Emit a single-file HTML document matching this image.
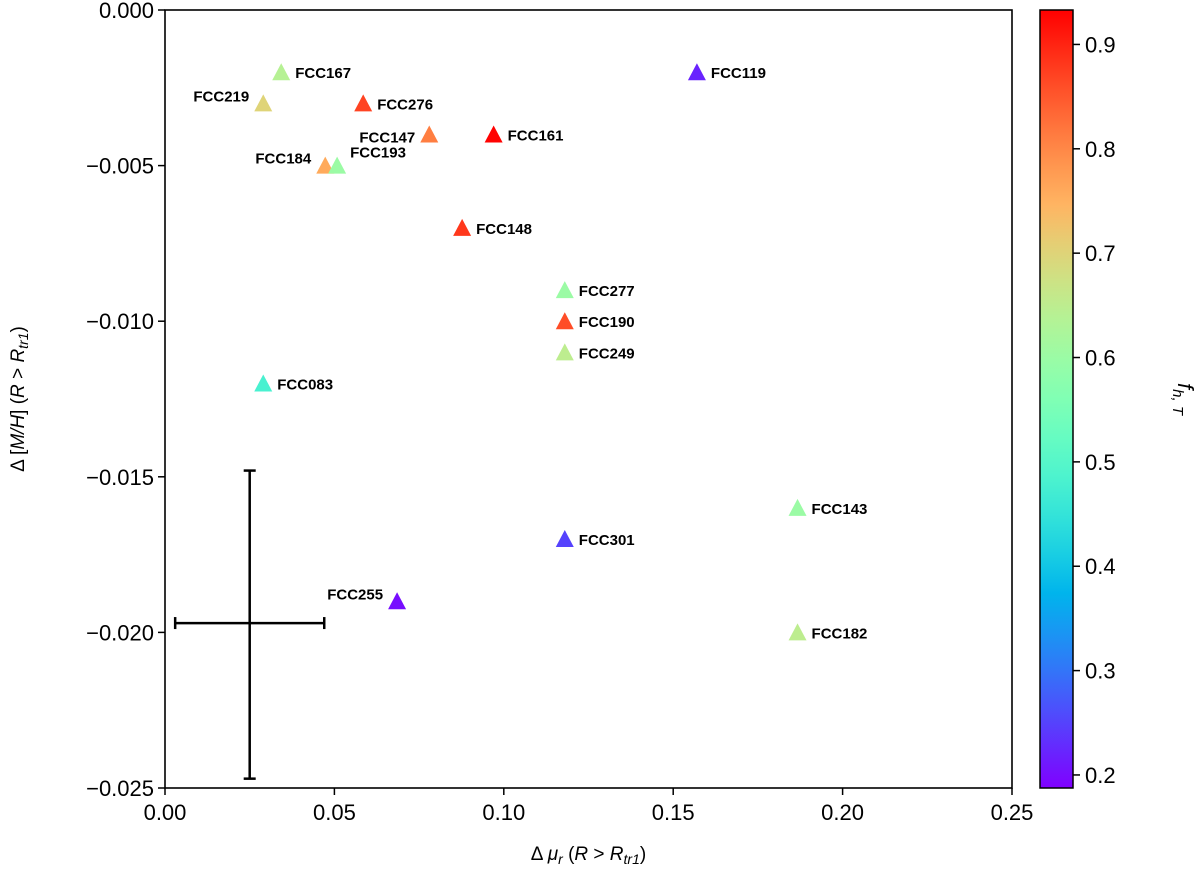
<!DOCTYPE html>
<html><head><meta charset="utf-8"><style>
body{margin:0;background:#fff;}
svg text{font-family:"Liberation Sans","DejaVu Sans",sans-serif;}
</style></head><body>
<svg id="chart" width="1200" height="872">
<defs><linearGradient id="cbg" x1="0" y1="1" x2="0" y2="0"></linearGradient></defs>
<g id="plot"></g>
</svg>
<script>
const names=["FCC167","FCC219","FCC276","FCC147","FCC161","FCC184","FCC193","FCC148","FCC119","FCC277","FCC190","FCC249","FCC083","FCC143","FCC301","FCC255","FCC182"];
const dmu=[0.0343,0.029,0.0585,0.078,0.097,0.0473,0.0508,0.0877,0.157,0.118,0.118,0.118,0.029,0.1867,0.118,0.0685,0.1867];
const dmh=[-0.002,-0.003,-0.003,-0.004,-0.004,-0.005,-0.005,-0.007,-0.002,-0.009,-0.010,-0.011,-0.012,-0.016,-0.017,-0.019,-0.020];
const fh=[0.64,0.70,0.87,0.81,0.93,0.76,0.60,0.88,0.22,0.60,0.86,0.65,0.48,0.60,0.25,0.20,0.65];
const labelSide=["r","l","r","l","r","l","ru","r","r","r","r","r","r","r","r","l","r"];
const xTicks=[0,0.05,0.10,0.15,0.20,0.25];
const xTickLabels=["0.00","0.05","0.10","0.15","0.20","0.25"];
const yTicks=[0,-0.005,-0.010,-0.015,-0.020,-0.025];
const yTickLabels=["0.000","\u22120.005","\u22120.010","\u22120.015","\u22120.020","\u22120.025"];
const cTicks=[0.2,0.3,0.4,0.5,0.6,0.7,0.8,0.9];
const cMin=0.1875,cMax=0.933;
const errX=0.025,errY=-0.0197,errXLo=0.003,errXHi=0.047,errYLo=-0.0247,errYHi=-0.0148;

const L=165,R=1012,T=10,B=788;
const sx=v=>L+(v-0)/(0.25)*(R-L);
const sy=v=>T+(0-v)/(0.025)*(B-T);
const CL=1040,CR=1073;
const sc=v=>B-(v-cMin)/(cMax-cMin)*(B-T);
function cmap(f){let x=Math.max(0,Math.min(1,(f-cMin)/(cMax-cMin)));
 let r=Math.min(1,Math.abs(2*x-0.5)),g=Math.sin(Math.PI*x),b=Math.cos(Math.PI/2*x);
 return `rgb(${Math.round(r*255)},${Math.round(g*255)},${Math.round(Math.max(0,b)*255)})`;}
const NS="http://www.w3.org/2000/svg";
const P=document.getElementById('plot');
function mk(t,a,txt){const e=document.createElementNS(NS,t);for(const k in a)e.setAttribute(k,a[k]);if(txt!=null)e.textContent=txt;P.appendChild(e);return e;}
const grad=document.getElementById('cbg');
for(let i=0;i<=20;i++){const s=document.createElementNS(NS,'stop');s.setAttribute('offset',i/20);s.setAttribute('stop-color',cmap(cMin+(cMax-cMin)*i/20));grad.appendChild(s);}
let e;
e=mk('rect',{x:L,y:T,width:R-L,height:B-T,fill:'none',stroke:'#000','stroke-width':1.6});

xTicks.forEach((v,i)=>{mk('line',{x1:sx(v),x2:sx(v),y1:B,y2:B+7,stroke:'#000','stroke-width':1.5});
 e=mk('text',{x:sx(v),y:B+32,'font-size':22,'text-anchor':'middle'},xTickLabels[i]);
 });
yTicks.forEach((v,i)=>{mk('line',{x1:L-7,x2:L,y1:sy(v),y2:sy(v),stroke:'#000','stroke-width':1.5});
 e=mk('text',{x:L-11,y:sy(v)+8,'font-size':22,'text-anchor':'end'},yTickLabels[i]);
 });
e=mk('text',{x:(L+R)/2,y:860,'font-size':19,'text-anchor':'middle'});
e.innerHTML='Δ <tspan font-style="italic">μ</tspan><tspan font-size="14" dy="4" font-style="italic">r</tspan><tspan dy="-4"> (</tspan><tspan font-style="italic">R</tspan> &gt; <tspan font-style="italic">R</tspan><tspan font-size="14" dy="4" font-style="italic">tr1</tspan><tspan dy="-4">)</tspan>';

e=mk('text',{x:0,y:0,'font-size':19,'text-anchor':'middle',transform:`translate(24,${(T+B)/2}) rotate(-90)`});
e.innerHTML='Δ [<tspan font-style="italic">M/H</tspan>] (<tspan font-style="italic">R</tspan> &gt; <tspan font-style="italic">R</tspan><tspan font-size="14" dy="4" font-style="italic">tr1</tspan><tspan dy="-4">)</tspan>';

e=mk('g',{stroke:'#000','stroke-width':2.5,fill:'none'});

e.innerHTML=`<line x1="${sx(errX)}" x2="${sx(errX)}" y1="${sy(errYHi)}" y2="${sy(errYLo)}"/><line x1="${sx(errXLo)}" x2="${sx(errXHi)}" y1="${sy(errY)}" y2="${sy(errY)}"/>
<line x1="${sx(errX)-6}" x2="${sx(errX)+6}" y1="${sy(errYHi)}" y2="${sy(errYHi)}"/><line x1="${sx(errX)-6}" x2="${sx(errX)+6}" y1="${sy(errYLo)}" y2="${sy(errYLo)}"/>
<line x1="${sx(errXLo)}" x2="${sx(errXLo)}" y1="${sy(errY)-6}" y2="${sy(errY)+6}"/><line x1="${sx(errXHi)}" x2="${sx(errXHi)}" y1="${sy(errY)-6}" y2="${sy(errY)+6}"/>`;
names.forEach((n,i)=>{const x=sx(dmu[i]),y=sy(dmh[i]);
 e=mk('polygon',{points:`${x-9},${y+8} ${x+9},${y+8} ${x},${y-9}`,fill:cmap(fh[i])});
 
 let s=labelSide[i],tx,ty=y+6,anc='start';
 if(s==='r'){tx=x+14;}else if(s==='l'){tx=x-14;anc='end';ty=(n==='FCC147')?y+8:y-2;}else{tx=x+13;ty=y-8;}
 e=mk('text',{x:tx,y:ty,'font-size':15,'font-weight':'bold','text-anchor':anc},n);
 });
e=mk('rect',{x:CL,y:T,width:CR-CL,height:B-T,fill:'url(#cbg)',stroke:'#000','stroke-width':1.5});

cTicks.forEach(v=>{mk('line',{x1:CR,x2:CR+7,y1:sc(v),y2:sc(v),stroke:'#000','stroke-width':1.5});
 e=mk('text',{x:CR+12,y:sc(v)+8,'font-size':22},v.toFixed(1));
 });
e=mk('text',{x:0,y:0,'font-size':22,'font-style':'italic','text-anchor':'middle',transform:`translate(1178,${(T+B)/2}) rotate(90)`});
e.innerHTML='f<tspan font-size="15" dy="5">h, T</tspan>';

</script>
</body></html>
